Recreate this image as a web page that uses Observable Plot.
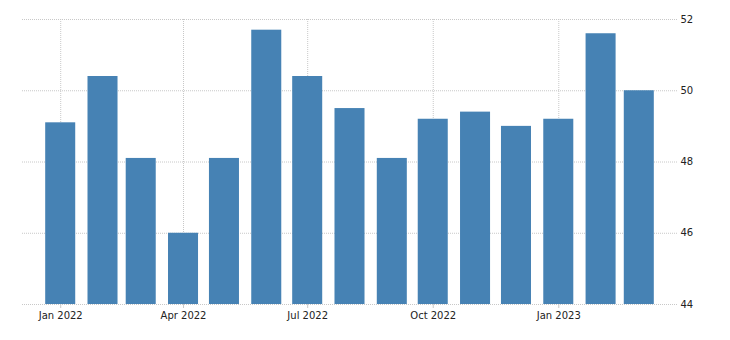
<!DOCTYPE html>
<html>
<head>
<meta charset="utf-8">
<script src="https://cdn.jsdelivr.net/npm/d3@7"></script>
<script src="https://cdn.jsdelivr.net/npm/@observablehq/plot@0.6"></script>
<style>
  html, body { margin: 0; padding: 0; background: #fff; }
  #chart svg { display: block; }
</style>
</head>
<body>
<div id="chart"></div>
<script>
const months = ["2022-01","2022-02","2022-03","2022-04","2022-05","2022-06","2022-07","2022-08","2022-09","2022-10","2022-11","2022-12","2023-01","2023-02","2023-03"];
const values = [49.1, 50.4, 48.1, 46.0, 48.1, 51.7, 50.4, 49.5, 48.1, 49.2, 49.4, 49.0, 49.2, 51.6, 50.0];
const yTicks = [44, 46, 48, 50, 52];
const xTickLabels = ["2022-01","2022-04","2022-07","2022-10","2023-01"];
const xDomain = ["2021-12-04","2023-03-29"];

const parse = d3.utcParse("%Y-%m");
const data = months.map((m, i) => ({date: parse(m), value: values[i]}));
const xTicks = xTickLabels.map(parse);
const halfWidthDays = 11;

const grid = {stroke: "#c8c8c8", strokeOpacity: 1, strokeWidth: 1, strokeDasharray: "1,1"};

const chart = Plot.plot({
  width: 730,
  height: 340,
  marginLeft: 22,
  marginRight: 53,
  marginTop: 19,
  marginBottom: 36,
  style: {fontFamily: "DejaVu Sans", fontSize: "10px", color: "#222", background: "#fff"},
  x: {type: "utc", domain: xDomain.map(d3.utcParse("%Y-%m-%d"))},
  y: {domain: [44, 52]},
  marks: [
    Plot.gridY(yTicks, {...grid}),
    Plot.gridX(xTicks, {...grid}),
    Plot.rectY(data, {
      x1: d => d3.utcDay.offset(d.date, -halfWidthDays),
      x2: d => d3.utcDay.offset(d.date, halfWidthDays),
      y1: 44,
      y2: "value",
      fill: "#4682b4"
    }),
    Plot.axisY(yTicks, {anchor: "right", tickSize: 0, tickPadding: 3, textAnchor: "start", fill: "#222", label: null}),
    Plot.axisX(xTicks, {anchor: "bottom", tickSize: 4, tickPadding: 3, stroke: "#c8c8c8", fill: "#222", tickFormat: d3.utcFormat("%b %Y"), label: null})
  ]
});
document.getElementById("chart").appendChild(chart);
</script>
</body>
</html>
